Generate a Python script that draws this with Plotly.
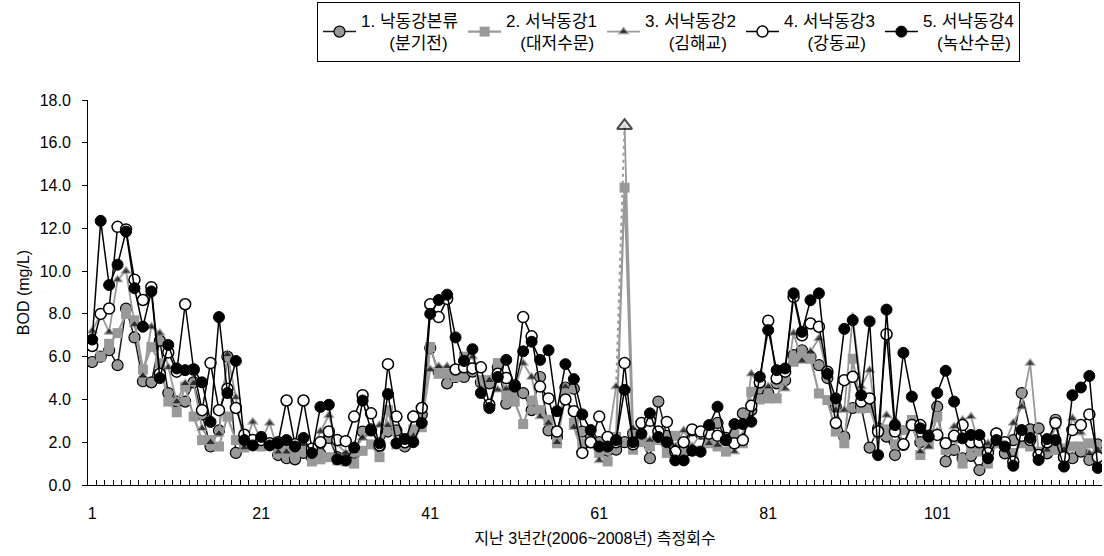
import plotly.graph_objects as go

# Measurement index (1..120) over 2006-2008
idx = list(range(1, 121))

s1 = [5.75, 6.0, 6.3, 5.6, 8.25, 6.9, 4.85, 4.8, 6.75, 4.3, 3.9, 3.9, 4.8, 3.3, 1.8, 2.55, 6.0, 1.5, 2.0, 1.9,
      2.0, 1.9, 1.4, 1.25, 1.2, 1.5, 1.3, 1.45, 2.2, 1.3, 1.3, 1.5, 2.5, 2.6, 1.8, 2.5, 2.55, 1.8, 3.2, 3.3,
      6.4, 5.3, 4.75, 5.05, 5.05, 5.3, 4.8, 4.75, 5.5, 3.8, 4.3, 4.3, 3.5, 5.05, 2.55, 2.25, 4.55, 4.5, 2.5, 2.2,
      2.0, 1.6, 1.65, 2.0, 2.4, 2.1, 1.25, 3.9, 2.3, 1.6, 1.7, 2.55, 2.4, 2.2, 2.9, 2.2, 2.0, 3.35, 3.5, 4.5,
      4.3, 4.75, 4.9, 6.07, 6.3, 6.0, 5.6, 5.0, 3.66, 2.26, 3.6, 3.66, 1.75, 2.65, 2.26, 1.4, 1.87, 2.88, 2.0, 2.3,
      3.66, 1.1, 1.64, 1.25, 1.36, 0.7, 1.6, 2.4, 1.48, 2.1, 4.3, 2.6, 2.65, 1.48, 3.05, 1.3, 1.25, 1.56, 1.17, 1.9]

s2 = [6.7, 6.0, 6.6, 7.1, 8.0, 7.7, 5.4, 6.45, 5.7, 3.9, 3.4, 4.6, 3.2, 2.1, 2.1, 1.8, 3.2, 2.1, 1.75, 2.0,
      1.8, 1.9, 1.5, 1.6, 1.4, 1.7, 1.1, 1.2, 1.3, 1.15, 1.1, 1.0, 1.6, 1.9, 1.3, 3.5, 1.9, 2.0, 2.6, 2.7,
      6.45, 5.2, 5.2, 5.05, 6.0, 5.5, 4.9, 4.9, 5.7, 4.2, 3.9, 2.85, 3.95, 3.5, 3.05, 1.95, 4.25, 2.9, 1.95, 1.95,
      1.5, 1.1, 2.25, 13.9, 1.65, 2.0, 1.8, 2.1, 1.5, 2.3, 1.6, 1.6, 1.6, 1.95, 1.8, 1.56, 2.4, 1.95, 4.36, 4.0,
      4.05, 4.05, 5.2, 5.76, 6.0, 5.9, 4.28, 3.97, 2.5, 1.95, 5.9, 3.58, 3.6, 2.4, 2.6, 1.9, 2.57, 3.04, 1.4, 1.95,
      3.2, 1.64, 2.18, 1.0, 1.8, 1.56, 1.0, 1.95, 1.9, 1.5, 1.95, 1.8, 1.56, 1.6, 1.64, 1.7, 1.8, 1.8, 1.95, 1.48]

s3 = [7.2, 8.0, 7.15, 9.6, 10.0, 7.5, 5.1, 7.4, 7.1, 5.5, 3.9, 4.75, 4.75, 2.65, 2.0, 2.4, 6.1, 4.1, 1.75, 2.95,
      2.1, 2.9, 1.55, 1.55, 1.8, 1.9, 1.5, 2.5, 3.25, 1.9, 1.5, 1.6, 2.2, 2.4, 2.8, 2.8, 2.0, 2.2, 2.3, 2.9,
      5.4, 5.55, 5.55, 5.3, 5.6, 6.0, 4.5, 4.9, 4.45, 4.5, 4.5, 5.7, 5.05, 3.2, 2.9, 2.0, 4.6, 2.7, 1.45, 2.0,
      1.15, 2.0, 4.6, 16.8, 2.65, 2.3, 2.1, 2.2, 1.9, 1.8, 2.55, 1.8, 2.4, 1.95, 1.87, 2.0, 1.56, 2.3, 5.2, 4.6,
      4.6, 5.0, 4.5, 7.1, 5.8, 6.23, 6.85, 5.2, 3.5, 3.5, 7.86, 4.6, 5.37, 2.35, 3.27, 3.04, 1.9, 2.8, 1.56, 1.79,
      2.5, 1.95, 2.73, 3.04, 3.2, 1.8, 1.95, 2.0, 1.95, 2.9, 3.66, 5.7, 1.5, 1.64, 2.73, 1.64, 3.12, 2.45, 1.48, 1.64]

s4 = [6.5, 8.0, 8.25, 12.07, 11.95, 9.6, 8.65, 9.25, 5.2, 6.2, 5.3, 8.45, 5.4, 3.5, 5.7, 3.5, 4.5, 3.6, 2.35, 2.1,
      2.1, 1.95, 2.0, 3.95, 1.9, 3.95, 1.7, 2.0, 2.5, 2.1, 2.05, 3.2, 4.2, 3.35, 1.85, 5.65, 3.2, 2.0, 3.2, 3.6,
      8.45, 7.85, 8.7, 5.4, 5.5, 5.45, 5.5, 3.75, 5.2, 5.0, 4.65, 7.85, 6.95, 4.6, 4.05, 2.5, 4.0, 3.45, 1.5, 2.0,
      3.2, 2.25, 2.0, 5.7, 1.9, 2.9, 3.0, 2.5, 2.95, 1.55, 2.0, 2.6, 2.5, 2.4, 2.3, 2.1, 1.95, 2.1, 3.7, 4.8,
      7.68, 4.98, 5.3, 8.8, 7.0, 7.55, 7.4, 5.3, 2.9, 4.9, 5.06, 3.9, 4.05, 2.5, 7.05, 2.5, 1.9, 2.8, 2.8, 2.3,
      2.34, 1.95, 2.3, 2.8, 2.0, 2.0, 1.5, 2.41, 2.0, 1.09, 2.3, 2.1, 1.4, 2.0, 2.9, 1.3, 2.57, 2.8, 3.3, 1.3]

s5 = [6.8, 12.35, 9.35, 10.3, 11.85, 9.2, 7.4, 9.05, 5.0, 6.55, 5.45, 5.37, 5.4, 4.8, 2.95, 7.85, 4.3, 5.8, 2.1, 1.85,
      2.25, 1.85, 1.95, 2.1, 1.8, 2.2, 1.5, 3.65, 3.75, 1.2, 1.15, 1.75, 3.95, 2.55, 1.95, 4.25, 1.95, 2.15, 2.0, 2.9,
      8.0, 8.65, 8.9, 6.9, 5.8, 6.35, 4.3, 3.6, 5.05, 5.85, 4.6, 6.25, 6.7, 5.85, 6.3, 3.45, 5.65, 4.95, 3.3, 2.57,
      1.8, 1.8, 2.1, 4.45, 2.0, 2.4, 3.35, 2.25, 2.0, 1.15, 1.15, 1.6, 1.56, 2.8, 3.66, 2.1, 2.85, 2.85, 2.96, 5.06,
      7.24, 5.37, 5.45, 8.96, 7.16, 8.64, 8.96, 5.2, 4.05, 7.3, 7.7, 4.2, 7.65, 1.4, 8.2, 2.8, 6.18, 4.13, 2.65, 2.26,
      4.3, 5.34, 3.9, 2.18, 2.34, 2.34, 1.25, 2.1, 1.8, 0.9, 2.57, 2.2, 1.17, 2.15, 2.1, 0.86, 4.2, 4.56, 5.1, 0.8]

NB = "&nbsp;"
names = [
    "1. 낙동강본류<br>" + NB * 6 + "(분기전)",
    "2. 서낙동강1<br>" + NB * 3 + "(대저수문)",
    "3. 서낙동강2<br>" + NB * 5 + "(김해교)",
    "4. 서낙동강3<br>" + NB * 5 + "(강동교)",
    "5. 서낙동강4<br>" + NB * 3 + "(녹산수문)",
]
x_ticks = [1, 21, 41, 61, 81, 101]
peak = 64  # measurement where 서낙동강2 peaks (highlighted point)

GRAY = "#999999"
FONT = "Liberation Sans, Noto Sans CJK KR, sans-serif"

fig = go.Figure()

# 1. 낙동강본류: gray circles, dark line
fig.add_trace(go.Scatter(
    x=idx, y=s1, name=names[0], mode="lines+markers",
    line=dict(color="#1a1a1a", width=1.5),
    marker=dict(symbol="circle", size=11, color=GRAY, line=dict(color="black", width=1.2)),
))

# 2. 서낙동강1: gray squares, gray line
fig.add_trace(go.Scatter(
    x=idx, y=s2, name=names[1], mode="lines+markers",
    line=dict(color=GRAY, width=2.2),
    marker=dict(symbol="square", size=10, color=GRAY, line=dict(width=0)),
))

# 3. 서낙동강2: black triangles with gray rim; the peak point is highlighted
# and its incoming segment is dotted, so the solid line breaks there.
k = peak - 1
x3 = idx[:k] + [peak - 0.5] + idx[k:]
y3 = s3[:k] + [None] + s3[k:]
mcol = ["black"] * len(x3)
mline = [GRAY] * len(x3)
msize = [9] * len(x3)
mw = [1.1] * len(x3)
j = k + 1
mcol[j] = "#d9d9d9"
mline[j] = "black"
msize[j] = 13
mw[j] = 2
fig.add_trace(go.Scatter(
    x=[idx[k - 1], idx[k]], y=[s3[k - 1], s3[k]], mode="lines",
    line=dict(color=GRAY, width=2, dash="3px,4px"),
    showlegend=False, hoverinfo="skip",
))
fig.add_trace(go.Scatter(
    x=x3, y=y3, name=names[2], mode="lines+markers", connectgaps=False,
    line=dict(color=GRAY, width=1.8),
    marker=dict(symbol="triangle-up", size=msize, color=mcol, line=dict(color=mline, width=mw)),
))

# 4. 서낙동강3: open circles, black line
fig.add_trace(go.Scatter(
    x=idx, y=s4, name=names[3], mode="lines+markers",
    line=dict(color="black", width=1.5),
    marker=dict(symbol="circle", size=11, color="white", line=dict(color="black", width=1.5)),
))

# 5. 서낙동강4: filled black circles, black line
fig.add_trace(go.Scatter(
    x=idx, y=s5, name=names[4], mode="lines+markers",
    line=dict(color="black", width=1.5),
    marker=dict(symbol="circle", size=11, color="black", line=dict(color="black", width=1)),
))

fig.update_layout(
    width=1104, height=556,
    margin=dict(l=88, r=2, t=100, b=71),
    paper_bgcolor="white", plot_bgcolor="white",
    font=dict(family=FONT, size=16, color="black"),
    showlegend=True,
    legend=dict(
        orientation="h", x=0.5725, xanchor="center", y=1.2545, yanchor="top",
        bordercolor="black", borderwidth=1, bgcolor="white",
        font=dict(family=FONT, size=17), itemwidth=33,
        traceorder="normal",
    ),
    xaxis=dict(
        range=[0.5, 120.5], tickmode="array", tickvals=x_ticks,
        ticktext=[str(v) for v in x_ticks], ticks="", ticklabelstandoff=14,
        showline=True, linecolor="black", linewidth=1, showgrid=False, zeroline=False,
        title=dict(text="지난 3년간(2006~2008년) 측정회수", standoff=11, font=dict(size=16)),
    ),
    # category boundary ticks along the bottom axis (pointing into the plot)
    xaxis2=dict(
        overlaying="x", anchor="y", side="bottom", matches="x",
        tickmode="linear", tick0=0.5, dtick=1, ticks="inside", ticklen=5,
        tickcolor="black", tickwidth=1, showticklabels=False,
        showline=False, showgrid=False, zeroline=False,
    ),
    yaxis=dict(
        range=[0, 18], dtick=2, tickformat=".1f", ticks="outside", ticklen=5,
        tickcolor="black", showline=True, linecolor="black", linewidth=1,
        showgrid=False, zeroline=False, ticklabelstandoff=8,
        title=dict(text="BOD (mg/L)", standoff=6, font=dict(size=16)),
    ),
)

# invisible carrier so the boundary-tick axis is laid out
fig.add_trace(go.Scatter(x=[idx[0]], y=[None], xaxis="x2", yaxis="y",
                         mode="markers", showlegend=False, hoverinfo="skip"))

fig.write_html("out.html")
